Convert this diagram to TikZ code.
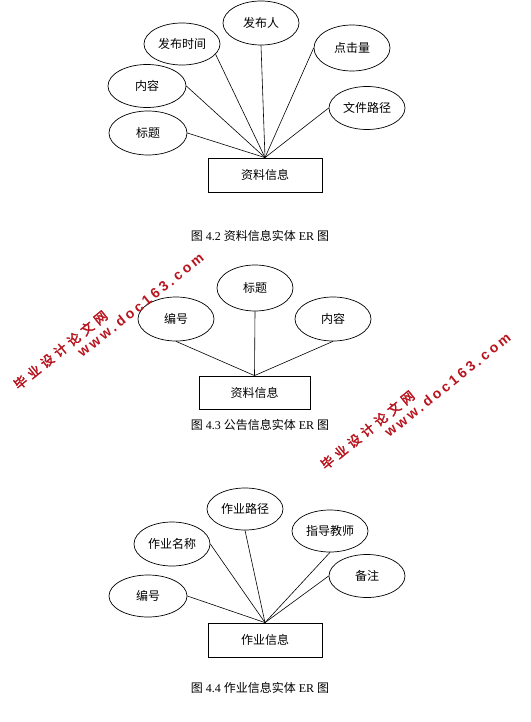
\documentclass[tikz,border=0pt]{standalone}
\usepackage{fontspec}
\setmainfont{Liberation Serif}
\newfontfamily\cjk{Noto Sans CJK SC}
\newfontfamily\wmcjk[AutoFakeBold=2.5,LetterSpace=32]{Noto Sans CJK SC}
\newfontfamily\wmlat[LetterSpace=22]{Liberation Sans}
\usetikzlibrary{shapes.geometric}
\definecolor{wmred}{RGB}{185,20,30}
\tikzset{
  attr/.style={ellipse, draw, line width=0.7pt, minimum width=76pt, minimum height=44pt, inner sep=0pt, font=\cjk\fontsize{12}{14}\selectfont},
  ent/.style={rectangle, draw, line width=0.8pt, minimum width=114pt, minimum height=34pt, inner sep=0pt, font=\cjk\fontsize{12}{14}\selectfont},
  conn/.style={line width=0.6pt},
  captext/.style={font=\fontsize{12}{14}\selectfont, inner sep=0pt},
  wmA/.style={rotate=39, text=wmred, font=\wmcjk\bfseries\fontsize{13}{14}\selectfont, inner sep=0pt},
  wmB/.style={rotate=38.7, text=wmred, font=\wmlat\bfseries\fontsize{14}{16}\selectfont, inner sep=0pt}
}
\begin{document}
\begin{tikzpicture}[x=1pt,y=-1pt]
\useasboundingbox[fill=white] (0,0) rectangle (530,722);
% Diagram 1
\node[attr, minimum height=44pt] (a1) at (261,23) {发布人};
\node[attr, minimum height=42pt] (a2) at (182,44) {发布时间};
\node[attr, minimum height=46pt] (a3) at (352,48) {点击量};
\node[attr, minimum width=78pt, minimum height=43pt] (a4) at (147,86) {内容};
\node[attr, minimum height=43pt] (a5) at (367,108) {文件路径};
\node[attr, minimum width=78pt, minimum height=44pt] (a6) at (148,133) {标题};
\node[ent] (e1) at (265,175) {资料信息};
\draw[conn] (a1.south) -- (e1.north);
\draw[conn] (a2.-17) -- (e1.north);
\draw[conn] (a3.west) -- (e1.north);
\draw[conn] (a4.east) -- (e1.north);
\draw[conn] (a5.west) -- (e1.north);
\draw[conn] (a6.east) -- (e1.north);
\node[captext] (t1) at (260,236) {{\cjk 图} 4.2 {\cjk 资料信息实体} ER {\cjk 图}};
% Diagram 2
\node[attr, minimum height=44pt] (b1) at (176,319) {编号};
\node[attr, minimum height=46pt] (b2) at (255,288) {标题};
\node[attr, minimum height=44pt] (b3) at (333,319) {内容};
\node[ent, minimum width=111pt, minimum height=33pt] (e2) at (254.5,392.5) {资料信息};
\draw[conn] (b1.south) -- (e2.north);
\draw[conn] (b2.south) -- (e2.north);
\draw[conn] (b3.south) -- (e2.north);
\node[captext] (t2) at (260,425) {{\cjk 图} 4.3 {\cjk 公告信息实体} ER {\cjk 图}};
% Diagram 3
\node[attr, minimum height=42pt] (c1) at (245,509) {作业路径};
\node[attr, minimum height=44pt] (c2) at (172,544) {作业名称};
\node[attr, minimum height=42pt] (c3) at (330,531) {指导教师};
\node[attr, minimum height=43pt] (c4) at (367,576) {备注};
\node[attr, minimum width=78pt, minimum height=42pt] (c5) at (148,596) {编号};
\node[ent] (e3) at (265,640) {作业信息};
\draw[conn] (c1.south) -- (e3.north);
\draw[conn] (c2.east) -- (e3.north);
\draw[conn] (c3.south) -- (e3.north);
\draw[conn] (c4.west) -- (e3.north);
\draw[conn] (c5.east) -- (e3.north);
\node[captext] (t3) at (260,688) {{\cjk 图} 4.4 {\cjk 作业信息实体} ER {\cjk 图}};
% Watermarks
\node[wmA] (w1a) at (60.5,350) {毕业设计论文网};
\node[wmB] (w1b) at (140.5,305) {www.doc163.com};
\node[wmA] (w2a) at (367.5,430) {毕业设计论文网};
\node[wmB] (w2b) at (447.5,385) {www.doc163.com};
\end{tikzpicture}
\end{document}
